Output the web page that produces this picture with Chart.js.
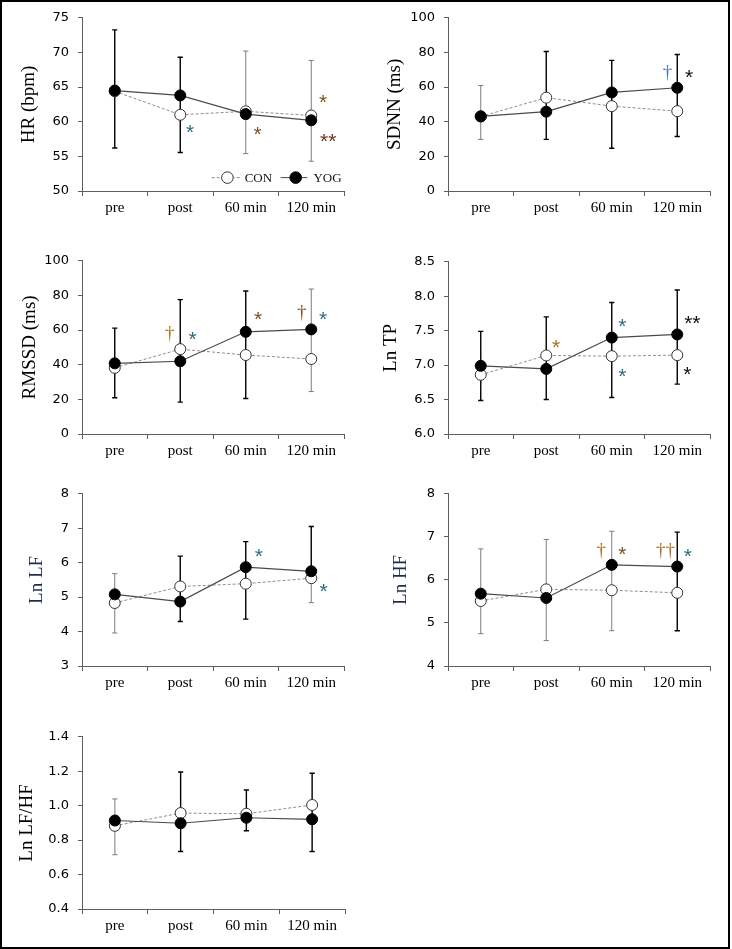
<!DOCTYPE html>
<html><head><meta charset="utf-8">
<script src="https://cdn.jsdelivr.net/npm/chart.js@4.4.0/dist/chart.umd.min.js"></script>
<style>
html,body{margin:0;padding:0;background:#fff;}
body{width:732px;height:949px;position:relative;overflow:hidden;}
#frame{position:absolute;left:0;top:0;width:730px;height:949px;border:2px solid #000;box-sizing:border-box;pointer-events:none;}
canvas{position:absolute;}
</style></head><body>
<div id="frame"></div>
<script>
// ---------- DATA ----------
const categories = ['pre', 'post', '60 min', '120 min'];
const seriesNames = ['CON', 'YOG'];

// HR (bpm)
const hrTicks = [50, 55, 60, 65, 70, 75];
const hrCon = [64.4, 61.0, 61.5, 60.9];
const hrYog = [64.5, 63.8, 61.1, 60.2];
const hrConHi = [null, null, 70.2, 68.85];
const hrConLo = [null, null, 55.4, 54.3];
const hrYogHi = [73.25, 69.3, null, null];
const hrYogLo = [56.2, 55.55, null, null];
const hrNoteText = ['*', '*', '*', '**'];
const hrNoteCat = [1, 2, 3, 3];
const hrNoteY = [59.25, 59.0, 63.6, 57.9];

// SDNN (ms)
const sdnnTicks = [0, 20, 40, 60, 80, 100];
const sdnnCon = [43.0, 53.9, 49.0, 46.1];
const sdnnYog = [43.1, 45.8, 56.9, 59.6];
const sdnnConHi = [60.9, null, null, null];
const sdnnConLo = [29.8, null, null, null];
const sdnnYogHi = [null, 80.5, 75.4, 78.8];
const sdnnYogLo = [null, 29.8, 24.7, 31.5];
const sdnnNoteText = ['†', '*'];
const sdnnNoteCat = [3, 3];
const sdnnNoteY = [68.1, 68.7];

// RMSSD (ms)
const rmssdTicks = [0, 20, 40, 60, 80, 100];
const rmssdCon = [38.2, 49.0, 45.6, 43.3];
const rmssdYog = [40.8, 42.0, 59.0, 60.4];
const rmssdConHi = [null, null, null, 83.7];
const rmssdConLo = [null, null, null, 24.5];
const rmssdYogHi = [61.1, 77.6, 82.6, null];
const rmssdYogLo = [20.9, 18.4, 20.5, null];
const rmssdNoteText = ['†', '*', '*', '†', '*'];
const rmssdNoteCat = [1, 1, 2, 3, 3];
const rmssdNoteY = [57.9, 57.5, 69.3, 70.2, 69.3];

// Ln TP
const tpTicks = [6.0, 6.5, 7.0, 7.5, 8.0, 8.5];
const tpCon = [6.86, 7.14, 7.13, 7.145];
const tpYog = [6.99, 6.945, 7.40, 7.445];
const tpConHi = [null, null, null, null];
const tpConLo = [null, null, null, null];
const tpYogHi = [7.49, 7.70, 7.91, 8.09];
const tpYogLo = [6.486, 6.50, 6.53, 6.724];
const tpNoteText = ['*', '*', '*', '**', '*'];
const tpNoteCat = [1, 2, 2, 3, 3];
const tpNoteY = [7.34, 7.64, 6.914, 7.686, 6.94];

// Ln LF
const lfTicks = [3, 4, 5, 6, 7, 8];
const lfCon = [4.83, 5.31, 5.39, 5.55];
const lfYog = [5.08, 4.87, 5.87, 5.75];
const lfConHi = [5.68, null, null, null];
const lfConLo = [3.96, null, null, 4.84];
const lfYogHi = [null, 6.19, 6.61, 7.05];
const lfYogLo = [null, 4.29, 4.36, null];
const lfNoteText = ['*', '*'];
const lfNoteCat = [2, 3];
const lfNoteY = [6.334, 5.314];

// Ln HF
const hfTicks = [4, 5, 6, 7, 8];
const hfCon = [5.51, 5.78, 5.76, 5.70];
const hfYog = [5.68, 5.58, 6.35, 6.31];
const hfConHi = [6.72, 6.94, 7.13, null];
const hfConLo = [4.75, 4.59, 4.82, null];
const hfYogHi = [null, null, null, 7.11];
const hfYogLo = [null, null, null, 4.82];
const hfNoteText = ['†', '*', '††', '*'];
const hfNoteCat = [2, 2, 3, 3];
const hfNoteY = [6.667, 6.727, 6.667, 6.667];

// Ln LF/HF
const ratioTicks = [0.4, 0.6, 0.8, 1.0, 1.2, 1.4];
const ratioCon = [0.883, 0.957, 0.953, 1.004];
const ratioYog = [0.914, 0.898, 0.930, 0.921];
const ratioConHi = [1.039, null, null, null];
const ratioConLo = [0.715, null, null, null];
const ratioYogHi = [null, 1.196, 1.091, 1.188];
const ratioYogLo = [null, 0.734, 0.854, 0.734];

// ---------- STYLE / LAYOUT ----------
const TEAL = '#2c6c7c', BROWN = '#80521f', ORANGE = '#a8701e', BLUE = '#4677b4', DARK = '#111111', DBROWN = '#6a3518';
const AX = '#5e5e5e';
const panels = [
  {plot:[81.7,15,343.3,190.7], title:'HR (bpm)', titleX:28.3, tcol:'#000', ticks:hrTicks, dec:0,
   con:hrCon, yog:hrYog, conHi:hrConHi, conLo:hrConLo, yogHi:hrYogHi, yogLo:hrYogLo,
   notes:{text:hrNoteText, cat:hrNoteCat, y:hrNoteY, dx:[0.15,0.18,0.18,0.26], color:[TEAL,BROWN,BROWN,DBROWN]}, legend:true},
  {plot:[447.7,15,709.3,190.7], title:'SDNN (ms)', titleX:394.3, tcol:'#000', ticks:sdnnTicks, dec:0,
   con:sdnnCon, yog:sdnnYog, conHi:sdnnConHi, conLo:sdnnConLo, yogHi:sdnnYogHi, yogLo:sdnnYogLo,
   notes:{text:sdnnNoteText, cat:sdnnNoteCat, y:sdnnNoteY, dx:[-0.15,0.18], color:[BLUE,DARK]}},
  {plot:[81.7,257.7,343.3,433.3], title:'RMSSD (ms)', titleX:30, tcol:'#000', ticks:rmssdTicks, dec:0,
   con:rmssdCon, yog:rmssdYog, conHi:rmssdConHi, conLo:rmssdConLo, yogHi:rmssdYogHi, yogLo:rmssdYogLo,
   notes:{text:rmssdNoteText, cat:rmssdNoteCat, y:rmssdNoteY, dx:[-0.16,0.19,0.19,-0.145,0.18], color:[ORANGE,TEAL,BROWN,BROWN,TEAL]}},
  {plot:[447.7,259,709.3,434], title:'Ln TP', titleX:391, tcol:'#000', ticks:tpTicks, dec:1,
   con:tpCon, yog:tpYog, conHi:tpConHi, conLo:tpConLo, yogHi:tpYogHi, yogLo:tpYogLo,
   notes:{text:tpNoteText, cat:tpNoteCat, y:tpNoteY, dx:[0.15,0.16,0.16,0.23,0.155], color:[ORANGE,TEAL,TEAL,DARK,DARK]}},
  {plot:[81.7,491,343.3,666], title:'Ln LF', titleX:36.7, tcol:'#1f2d4d', ticks:lfTicks, dec:0,
   con:lfCon, yog:lfYog, conHi:lfConHi, conLo:lfConLo, yogHi:lfYogHi, yogLo:lfYogLo,
   notes:{text:lfNoteText, cat:lfNoteCat, y:lfNoteY, dx:[0.2,0.19], color:[TEAL,TEAL]}},
  {plot:[447.7,491,709.3,666], title:'Ln HF', titleX:401, tcol:'#1f2d4d', ticks:hfTicks, dec:0,
   con:hfCon, yog:hfYog, conHi:hfConHi, conLo:hfConLo, yogHi:hfYogHi, yogLo:hfYogLo,
   notes:{text:hfNoteText, cat:hfNoteCat, y:hfNoteY, dx:[-0.16,0.16,-0.18,0.16], color:[ORANGE,BROWN,ORANGE,TEAL]}},
  {plot:[81.7,733.7,345,908.3], title:'Ln LF/HF', titleX:26.7, tcol:'#000', ticks:ratioTicks, dec:1,
   con:ratioCon, yog:ratioYog, conHi:ratioConHi, conLo:ratioConLo, yogHi:ratioYogHi, yogLo:ratioYogLo,
   notes:null}
];

const Y_W = 80, PAD_T = 14, PAD_R = 20, X_H = 32;
const TITLE_SIZE = 19, TITLE_LH = 1.2;
const STAR_SIZE = 21, DAGGER_SIZE = 19;

const errPlugin = {
  id: 'errbars',
  beforeDatasetsDraw(chart) {
    const p = chart.$panel;
    const xs = chart.scales.x, ys = chart.scales.y, ctx = chart.ctx;
    const groups = [
      {v:p.con, hi:p.conHi, lo:p.conLo, color:'#7c7c7c', w:1},
      {v:p.yog, hi:p.yogHi, lo:p.yogLo, color:'#000', w:1.4}
    ];
    ctx.save();
    for (const g of groups) {
      ctx.strokeStyle = g.color; ctx.lineWidth = g.w;
      for (let i = 0; i < g.v.length; i++) {
        const x = xs.getPixelForValue(i);
        const y0 = ys.getPixelForValue(g.v[i]);
        for (const b of [g.hi[i], g.lo[i]]) {
          if (b === null || b === undefined) continue;
          const y1 = ys.getPixelForValue(b);
          ctx.beginPath();
          ctx.moveTo(x, y0); ctx.lineTo(x, y1);
          ctx.moveTo(x - 2.6, y1); ctx.lineTo(x + 2.6, y1);
          ctx.stroke();
        }
      }
    }
    ctx.restore();
  },
  afterDatasetsDraw(chart) {
    const p = chart.$panel;
    const xs = chart.scales.x, ys = chart.scales.y, ctx = chart.ctx;
    ctx.save();
    if (p.notes) {
      const n = p.notes;
      const cw = xs.width / categories.length;
      for (let i = 0; i < n.text.length; i++) {
        const t = n.text[i];
        const x = xs.getPixelForValue(n.cat[i]) + n.dx[i] * cw;
        const cy = ys.getPixelForValue(n.y[i]);
        ctx.fillStyle = n.color[i];
        ctx.textAlign = 'center';
        ctx.textBaseline = 'alphabetic';
        if (t.indexOf('*') >= 0) {
          ctx.font = STAR_SIZE + 'px "Liberation Sans", Arial, sans-serif';
          ctx.fillText(t, x, cy + 0.57 * STAR_SIZE);
        } else {
          ctx.font = DAGGER_SIZE + 'px "Liberation Serif", "Times New Roman", serif';
          ctx.fillText(t, x, cy + 0.27 * DAGGER_SIZE);
        }
      }
    }
    if (p.legend) {
      const ca = chart.chartArea;
      const y = ca.bottom - 13.4;
      const items = [
        {x0: ca.right - 132.3, x1: ca.right - 102.3, cx: ca.right - 116.6, tx: ca.right - 99.3, ds: chart.data.datasets[0]},
        {x0: ca.right - 63.3, x1: ca.right - 36.6, cx: ca.right - 48.3, tx: ca.right - 30.6, ds: chart.data.datasets[1]}
      ];
      for (const it of items) {
        ctx.strokeStyle = it.ds.borderColor; ctx.lineWidth = 1;
        ctx.setLineDash(it.ds.borderDash || []);
        ctx.beginPath(); ctx.moveTo(it.x0, y); ctx.lineTo(it.x1, y); ctx.stroke();
        ctx.setLineDash([]);
        ctx.beginPath(); ctx.arc(it.cx, y, 5.8, 0, Math.PI * 2);
        ctx.fillStyle = it.ds.pointBackgroundColor; ctx.fill();
        ctx.strokeStyle = it.ds.pointBorderColor; ctx.lineWidth = 1; ctx.stroke();
        ctx.fillStyle = '#111';
        ctx.font = '13px "Liberation Serif", "Times New Roman", serif';
        ctx.textAlign = 'left'; ctx.textBaseline = 'middle';
        ctx.fillText(it.ds.label, it.tx, y + 0.5);
      }
    }
    ctx.restore();
  }
};

panels.forEach((p) => {
  const [L, T, R, B] = p.plot;
  const cl = L - Y_W, ct = T - PAD_T;
  const cw = Math.round(R + PAD_R - cl), ch = Math.round(B + X_H - ct);
  const cv = document.createElement('canvas');
  cv.width = cw; cv.height = ch;
  cv.style.left = cl + 'px'; cv.style.top = ct + 'px';
  cv.style.width = cw + 'px'; cv.style.height = ch + 'px';
  document.body.appendChild(cv);
  const titlePad = p.titleX - cl - TITLE_SIZE * TITLE_LH / 2;
  new Chart(cv.getContext('2d'), {
    type: 'line',
    data: {
      labels: categories,
      datasets: [
        {label: seriesNames[0], data: p.con, order: 1, borderColor: '#8e8e8e', borderWidth: 1, borderDash: [3, 2],
         pointRadius: 5.5, pointBackgroundColor: '#fff', pointBorderColor: '#333', pointBorderWidth: 1, tension: 0, fill: false},
        {label: seriesNames[1], data: p.yog, order: 0, borderColor: '#4a4a4a', borderWidth: 1.2,
         pointRadius: 5.5, pointBackgroundColor: '#000', pointBorderColor: '#000', pointBorderWidth: 1, tension: 0, fill: false}
      ]
    },
    options: {
      responsive: false, animation: false, devicePixelRatio: 1,
      layout: {padding: {left: 0, top: PAD_T, right: PAD_R, bottom: 0}},
      plugins: {legend: {display: false}, tooltip: {enabled: false}},
      events: [],
      scales: {
        x: {
          type: 'category', offset: true,
          grid: {display: true, offset: true, drawOnChartArea: false, drawTicks: true, tickLength: 5, color: AX, lineWidth: 1},
          border: {display: true, color: AX, width: 1},
          ticks: {font: {family: 'Liberation Serif', size: 15}, color: '#000', padding: 3, maxRotation: 0, autoSkip: false},
          afterFit(s) { s.height = X_H; }
        },
        y: {
          type: 'linear', min: p.ticks[0], max: p.ticks[p.ticks.length - 1],
          grid: {display: true, drawOnChartArea: false, drawTicks: true, tickLength: 4, color: AX, lineWidth: 1},
          border: {display: true, color: AX, width: 1},
          afterBuildTicks(s) { s.ticks = p.ticks.map(v => ({value: v})); },
          ticks: {font: {family: 'DejaVu Sans', size: 13}, color: '#000', padding: 9,
                  callback: (v) => Number(v).toFixed(p.dec)},
          title: {display: true, text: p.title, color: p.tcol,
                  font: {family: 'Liberation Serif', size: TITLE_SIZE, lineHeight: TITLE_LH},
                  padding: {top: titlePad, bottom: 0}},
          afterFit(s) { s.width = Y_W; }
        }
      }
    },
    plugins: [{id: 'attach', beforeInit(c) { c.$panel = p; }}, errPlugin]
  });
});
</script>
</body></html>
